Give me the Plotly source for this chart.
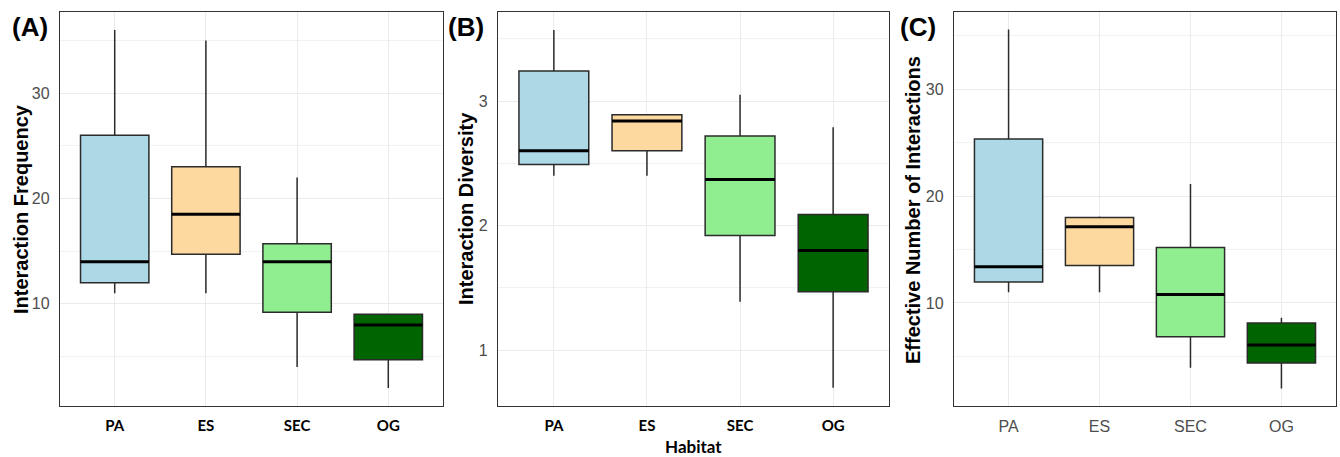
import plotly.graph_objects as go

habitats = ["PA", "ES", "SEC", "OG"]
colors = ["#ADD8E6", "#FDD9A0", "#90EE90", "#006400"]

# Panel A: Interaction Frequency
freq_low = [11.0, 11.0, 4.0, 2.0]
freq_q1 = [12.0, 14.7, 9.2, 4.7]
freq_med = [14.0, 18.5, 14.0, 8.0]
freq_q3 = [26.0, 23.0, 15.7, 9.0]
freq_high = [36.0, 35.0, 22.0, 9.0]

# Panel B: Interaction Diversity
div_low = [2.40, 2.40, 1.39, 0.70]
div_q1 = [2.49, 2.60, 1.92, 1.47]
div_med = [2.60, 2.84, 2.37, 1.80]
div_q3 = [3.24, 2.89, 2.72, 2.09]
div_high = [3.57, 2.89, 3.05, 2.79]

# Panel C: Effective Number of Interactions
eff_low = [11.0, 11.0, 3.95, 2.0]
eff_q1 = [11.97, 13.5, 6.85, 4.38]
eff_med = [13.4, 17.14, 10.8, 6.07]
eff_q3 = [25.35, 18.0, 15.2, 8.13]
eff_high = [35.6, 18.1, 21.14, 8.63]

panels = [
    (freq_low, freq_q1, freq_med, freq_q3, freq_high),
    (div_low, div_q1, div_med, div_q3, div_high),
    (eff_low, eff_q1, eff_med, eff_q3, eff_high),
]

W, H = 1340, 457
BOXW = 0.75

fig = go.Figure()

xdomains = [(60, 443), (498, 889), (954, 1336)]
ydom = [(H - 406) / H, (H - 12) / H]
yranges = [[0.3, 37.7], [0.553, 3.714], [0.36, 37.23]]
ydticks = [10, 1, 10]
yminor = [5, 0.5, 5]

for p, (lo, q1, med, q3, hi) in enumerate(panels):
    xa = "x" if p == 0 else f"x{p+1}"
    ya = "y" if p == 0 else f"y{p+1}"
    for i, h in enumerate(habitats):
        fig.add_trace(go.Box(
            x=[i + 1], q1=[q1[i]], median=[med[i]], q3=[q3[i]],
            lowerfence=[lo[i]], upperfence=[hi[i]],
            width=BOXW, whiskerwidth=0,
            fillcolor=colors[i],
            line=dict(color="#2b2b2b", width=1.5),
            boxpoints=False, showlegend=False, hoverinfo="skip",
            xaxis=xa, yaxis=ya,
        ))
        fig.add_trace(go.Scatter(
            x=[i + 1 - BOXW / 2, i + 1 + BOXW / 2], y=[med[i], med[i]],
            mode="lines", line=dict(color="black", width=3),
            showlegend=False, hoverinfo="skip", xaxis=xa, yaxis=ya,
        ))

layout = dict(
    width=W, height=H,
    margin=dict(l=0, r=0, t=0, b=0),
    paper_bgcolor="white", plot_bgcolor="white",
)

for p in range(3):
    xk = "xaxis" if p == 0 else f"xaxis{p+1}"
    yk = "yaxis" if p == 0 else f"yaxis{p+1}"
    x0, x1 = xdomains[p]
    bold_x = p < 2
    layout[xk] = dict(
        domain=[x0 / W, x1 / W], anchor="y" if p == 0 else f"y{p+1}",
        range=[0.4, 4.6], tickvals=[1, 2, 3, 4], ticktext=habitats,
        showgrid=True, gridcolor="#EBEBEB", gridwidth=1,
        showline=True, mirror=True, linecolor="#333333", linewidth=1.3,
        ticks="", zeroline=False, ticklabelstandoff=6,
        tickfont=dict(family="Lato", size=15, color="black", weight="bold") if bold_x
        else dict(family="Arial, Liberation Sans", size=16, color="#4D4D4D"),
    )
    layout[yk] = dict(
        domain=ydom, anchor="x" if p == 0 else f"x{p+1}",
        range=yranges[p], dtick=ydticks[p], tick0=0,
        showgrid=True, gridcolor="#EBEBEB", gridwidth=1,
        minor=dict(dtick=yminor[p], tick0=0, showgrid=True, gridcolor="#F2F2F2", gridwidth=1),
        showline=True, mirror=True, linecolor="#333333", linewidth=1.3,
        ticks="", zeroline=False, ticklabelstandoff=6,
        tickfont=dict(family="Arial, Liberation Sans", size=16, color="#4D4D4D"),
    )

fig.update_layout(**layout)

ann = []
# panel labels
for txt, xc in [("(A)", 30), ("(B)", 466), ("(C)", 918)]:
    ann.append(dict(text=f"<b>{txt}</b>", x=xc / W, y=(H - 27) / H, xref="paper", yref="paper",
                    showarrow=False, xanchor="center", yanchor="middle",
                    font=dict(family="Arial, Liberation Sans", size=26, color="black")))
# y axis titles
for txt, xc, yc, fs in [("Interaction Frequency", 21, 209, 20),
                        ("Interaction Diversity", 466, 209, 20),
                        ("Effective Number of Interactions", 913, 210, 20)]:
    ann.append(dict(text=f"<b>{txt}</b>", x=xc / W, y=(H - yc) / H, xref="paper", yref="paper",
                    showarrow=False, xanchor="center", yanchor="middle", textangle=-90,
                    font=dict(family="Arial, Liberation Sans", size=fs, color="black")))
# x title for middle panel
ann.append(dict(text="<b>Habitat</b>", x=693 / W, y=(H - 446) / H, xref="paper", yref="paper",
                showarrow=False, xanchor="center", yanchor="middle",
                font=dict(family="Lato", size=17, color="black")))
fig.update_layout(annotations=ann)

fig.write_html("out.html", config={"displayModeBar": False},
               post_script="document.body.style.margin='0';document.body.style.overflow='hidden';")
